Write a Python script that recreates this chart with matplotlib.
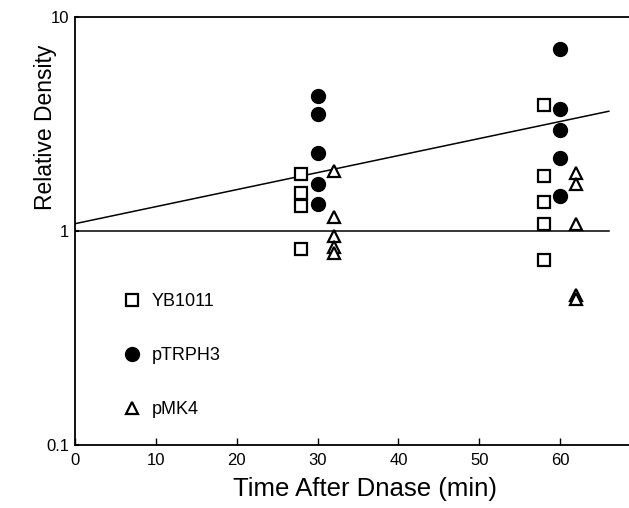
import matplotlib
matplotlib.use("Agg")
import matplotlib.pyplot as plt

plt.rcParams['font.family'] = ['Liberation Sans', 'DejaVu Sans']

# values (relative density, log axis)
yb_x = [28, 28, 28, 28, 58, 58, 58, 58, 58]
yb_y = [1.85, 1.51, 1.30, 0.82, 3.89, 1.81, 1.36, 1.08, 0.73]

trph_x = [30, 30, 30, 30, 30, 60, 60, 60, 60, 60]
trph_y = [4.28, 3.53, 2.32, 1.65, 1.34, 7.1, 3.72, 2.97, 2.20, 1.45]

mk_x = [32, 32, 32, 32, 32, 62, 62, 62, 62, 62]
mk_y = [1.91, 1.16, 0.95, 0.84, 0.79, 1.87, 1.66, 1.08, 0.50, 0.48]

# fitted lines (end points)
fit1_x = [0, 66]
fit1_y = [1.08, 3.62]
fit2_x = [0, 66]
fit2_y = [1.0, 1.0]

fig = plt.figure(figsize=(6.29, 5.08), dpi=100)
ax = fig.add_axes([0.119, 0.124, 0.881, 0.843])

ax.plot(fit1_x, fit1_y, color='black', linewidth=1.1)
ax.plot(fit2_x, fit2_y, color='black', linewidth=1.1)

h1, = ax.plot(yb_x, yb_y, linestyle='none', marker='s', markersize=8,
              markerfacecolor='white', markeredgecolor='black', markeredgewidth=1.6,
              label='YB1011')
h2, = ax.plot(trph_x, trph_y, linestyle='none', marker='o', markersize=10,
              markerfacecolor='black', markeredgecolor='black', label='pTRPH3')
h3, = ax.plot(mk_x, mk_y, linestyle='none', marker='^', markersize=9,
              markerfacecolor='white', markeredgecolor='black', markeredgewidth=1.6,
              label='pMK4')

ax.set_yscale('log')
ax.set_ylim(0.1, 10)
ax.set_xlim(0, 68.5)
ax.set_xticks([0, 10, 20, 30, 40, 50, 60])
ax.set_yticks([0.1, 1, 10])
ax.set_yticklabels(['0.1', '1', '10'])
ax.minorticks_off()
ax.tick_params(axis='x', direction='in', length=5, width=1, labelsize=12, pad=6)
ax.tick_params(axis='y', direction='in', length=3, width=1.5, labelsize=12, pad=4)

ax.spines['right'].set_visible(False)
for s in ['left', 'bottom', 'top']:
    ax.spines[s].set_linewidth(1.3)

ax.set_xlabel('Time After Dnase (min)', fontsize=18.5)
ax.xaxis.set_label_coords(0.524, -0.075)
ax.set_ylabel('Relative Density', fontsize=16.5)
ax.yaxis.set_label_coords(-0.032, 0.743)

ax.legend(handles=[h1, h2, h3], loc='upper left', bbox_to_anchor=(0.07, 0.375),
          frameon=False, fontsize=13, labelspacing=2.05, handlelength=1.0,
          handletextpad=0.6, borderpad=0)

fig.savefig('out.png', dpi=100)
